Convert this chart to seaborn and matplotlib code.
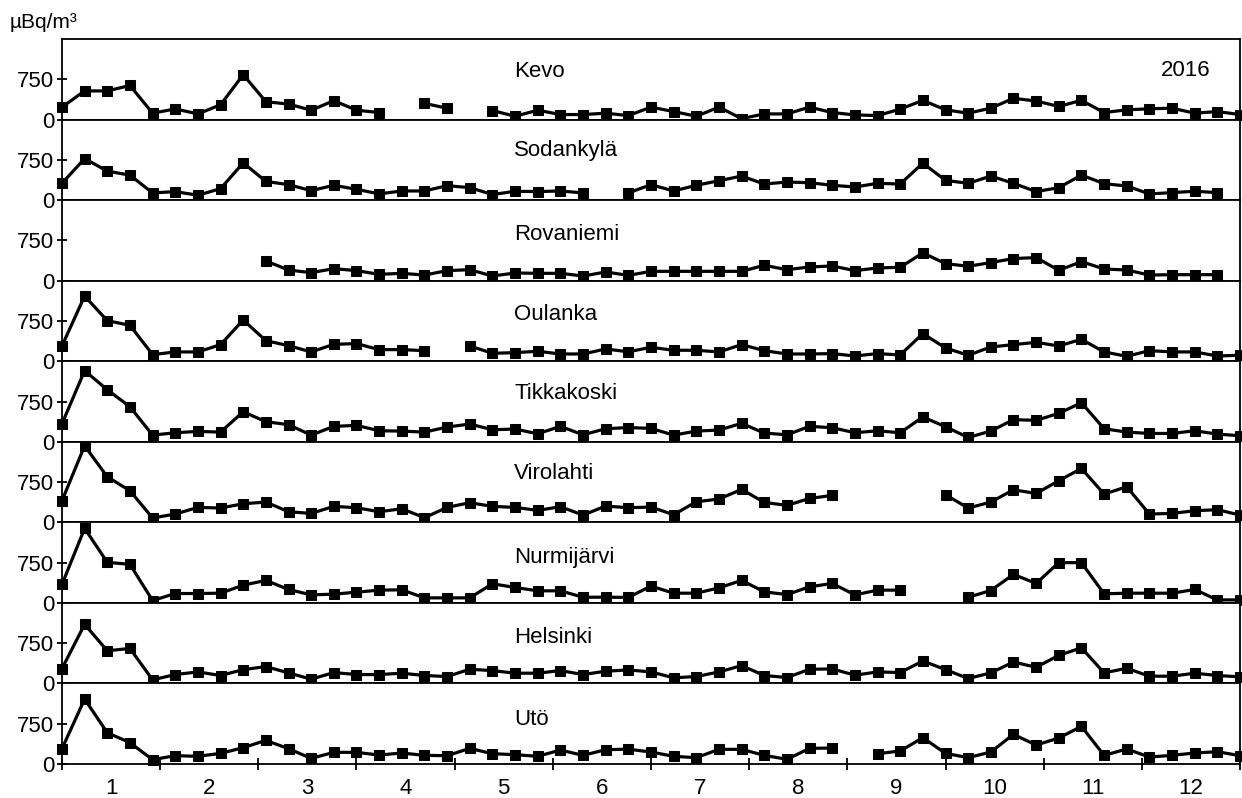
import numpy as np
import pandas as pd
import matplotlib.pyplot as plt
import seaborn as sns

nan = np.nan

# weekly values, uBq/m3, 53 points per station (weeks 0..52)
stations = ["Kevo", "Sodankylä", "Rovaniemi", "Oulanka", "Tikkakoski",
            "Virolahti", "Nurmijärvi", "Helsinki", "Utö"]

kevo = [233, 535, 535, 636, 120, 200, 107, 277, 838, 334, 290, 176, 353, 176, 132, nan,
        302, 214, nan, 170, 63, 176, 95, 95, 120, 76, 233, 151, 63, 233, 19, 107,
        107, 233, 132, 88, 76, 195, 359, 183, 120, 214, 397, 347, 246, 359, 132, 183,
        202, 214, 120, 151, 95]
sodankyla = [314, 775, 541, 467, 135, 160, 92, 215, 695, 350, 289, 178, 277, 203, 117, 172,
             172, 270, 234, 105, 166, 160, 172, 135, nan, 135, 289, 172, 277, 363, 449, 301,
             338, 326, 277, 246, 314, 301, 689, 369, 314, 449, 314, 160, 234, 467, 308, 264,
             117, 141, 166, 141, nan]
rovaniemi = [nan, nan, nan, nan, nan, nan, nan, nan, nan, 369, 200, 150, 225, 188, 119, 138,
             106, 188, 206, 88, 144, 138, 138, 88, 163, 100, 175, 175, 175, 175, 175, 288,
             206, 256, 275, 188, 238, 250, 519, 319, 269, 338, 413, 431, 194, 356, 219, 200,
             106, 113, 113, 113, nan]
oulanka = [285, 1215, 756, 670, 124, 174, 174, 310, 769, 384, 291, 174, 316, 329, 217, 217,
           198, nan, 285, 149, 161, 186, 136, 136, 229, 177, 260, 205, 205, 174, 310, 198,
           136, 136, 143, 99, 143, 118, 515, 248, 112, 267, 310, 353, 285, 409, 174, 93,
           198, 174, 174, 99, 112]
tikkakoski = [336, 1325, 970, 653, 125, 169, 194, 181, 560, 375, 319, 125, 288, 306, 206, 200,
              181, 275, 331, 225, 238, 150, 288, 131, 244, 266, 250, 125, 200, 219, 344, 163,
              131, 288, 263, 169, 206, 169, 463, 281, 81, 200, 413, 400, 530, 728, 244, 181,
              156, 156, 206, 144, 113]
virolahti = [403, 1426, 849, 589, 81, 155, 279, 267, 347, 378, 198, 167, 298, 273, 198, 254,
             87, 279, 366, 298, 279, 223, 291, 136, 304, 273, 285, 143, 384, 434, 614, 372,
             316, 446, 502, nan, nan, nan, nan, 515, 267, 378, 607, 539, 775, 1004, 527, 663,
             155, 167, 217, 236, 136]
nurmijarvi = [344, 1388, 756, 719, 44, 175, 175, 181, 331, 419, 250, 150, 163, 200, 238, 244,
              94, 94, 94, 356, 288, 225, 225, 106, 106, 103, 313, 181, 181, 281, 419, 206,
              156, 300, 363, 150, 238, 238, nan, nan, 106, 231, 531, 363, 750, 750, 169, 181,
              181, 181, 250, 56, 56]
helsinki = [277, 1101, 609, 652, 68, 166, 215, 148, 258, 314, 197, 80, 203, 166, 166, 191,
            148, 129, 264, 240, 191, 191, 240, 166, 228, 252, 215, 105, 129, 215, 332, 148,
            111, 264, 271, 154, 215, 203, 418, 258, 92, 197, 400, 301, 523, 664, 197, 283,
            135, 135, 191, 148, 123]
uto = [285, 1209, 583, 397, 81, 155, 143, 198, 304, 440, 285, 105, 217, 217, 167, 205,
       161, 155, 291, 192, 174, 143, 260, 161, 267, 276, 223, 143, 118, 273, 273, 161,
       87, 291, 298, nan, 192, 242, 490, 198, 118, 223, 552, 353, 484, 701, 161, 279,
       130, 161, 205, 229, 155]

series = [kevo, sodankyla, rovaniemi, oulanka, tikkakoski, virolahti, nurmijarvi, helsinki, uto]
month_labels = [str(m) for m in range(1, 13)]
year_label = "2016"
unit_label = "µBq/m³"

weeks = np.arange(53)
month_pos = weeks * 12 / 52

sns.set_style("ticks")
plt.rcParams["font.family"] = ["Liberation Sans", "DejaVu Sans"]
plt.rcParams["text.color"] = "black"
plt.rcParams["xtick.color"] = "black"
plt.rcParams["ytick.color"] = "black"

fig, axes = plt.subplots(9, 1, figsize=(12.42, 7.98), dpi=100, sharex=True)
fig.subplots_adjust(left=0.0499, right=0.9984, top=0.951, bottom=0.0426, hspace=0)

# vertical place of the station names inside each panel
name_y = [0.6, 0.62, 0.58, 0.58, 0.6, 0.61, 0.57, 0.57, 0.55]

for ax, name, vals, ny in zip(axes, stations, series, name_y):
    df = pd.DataFrame({"x": month_pos, "y": vals})
    # split into contiguous runs so gaps stay open
    df["seg"] = df["y"].isna().cumsum()
    df = df.dropna()
    sns.lineplot(data=df, x="x", y="y", units="seg", estimator=None, ax=ax,
                 color="black", linewidth=2.3, marker="s", markersize=7,
                 markeredgecolor="black", clip_on=False, legend=False)
    ax.set_xlim(0, 12)
    ax.set_ylim(0, 1500)
    ax.set_yticks([0, 750])
    ax.set_yticklabels(["0", "750"], fontsize=16)
    ax.tick_params(axis="y", direction="inout", length=7, width=1.3, pad=2)
    ax.set_xlabel("")
    ax.set_ylabel("")
    for s in ax.spines.values():
        s.set_linewidth(1.3)
        s.set_color("black")
    ax.text(0.384, ny, name, transform=ax.transAxes, fontsize=16,
            ha="left", va="center")

axes[0].text(0.933, 0.61, year_label, transform=axes[0].transAxes, fontsize=16,
             ha="left", va="center")

bottom = axes[-1]
bottom.set_xticks(np.arange(0, 13))
bottom.set_xticklabels([""] * 13)
bottom.set_xticks(np.arange(12) + 0.5, minor=True)
bottom.set_xticklabels(month_labels, minor=True, fontsize=16)
bottom.tick_params(axis="x", which="major", direction="inout", length=9, width=1.3)
bottom.tick_params(axis="x", which="minor", length=0, pad=10)
for ax in axes[:-1]:
    ax.tick_params(axis="x", which="both", length=0)

fig.text(0.008, 0.972, unit_label, fontsize=15, ha="left", va="center")

fig.savefig("out.png", dpi=100)
